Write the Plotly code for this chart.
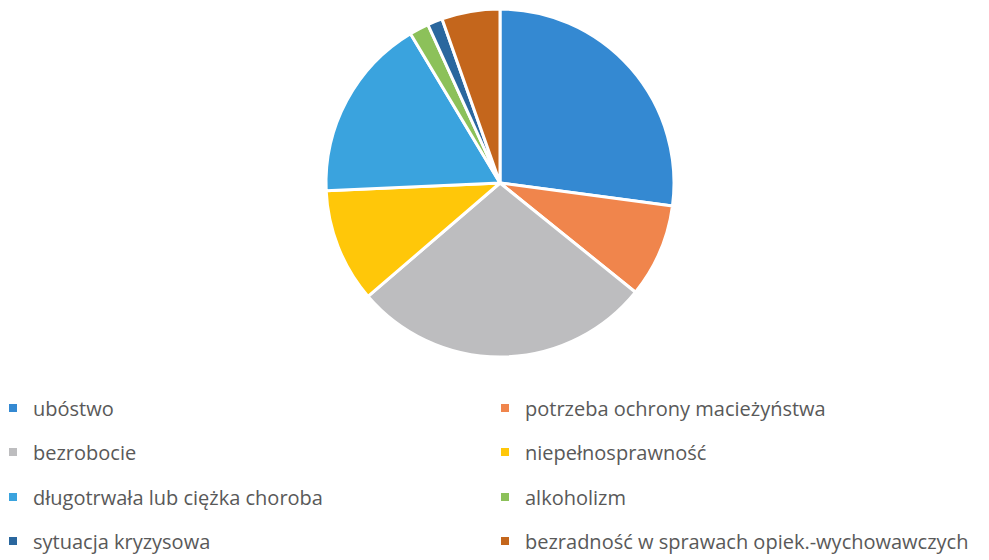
import plotly.graph_objects as go

labels = [
    "ubóstwo",
    "potrzeba ochrony macieżyństwa",
    "bezrobocie",
    "niepełnosprawność",
    "długotrwała lub ciężka choroba",
    "alkoholizm",
    "sytuacja kryzysowa",
    "bezradność w sprawach opiek.-wychowawczych",
]
values = [27.1, 8.7, 27.9, 10.6, 17.1, 1.8, 1.4, 5.4]
colors = ["#3489D2", "#F0854C", "#BDBDBF", "#FFC709", "#3AA3DE", "#8CC15A", "#2A679E", "#C4661C"]

W, H = 989, 560
fig = go.Figure()
fig.add_trace(go.Pie(
    labels=labels,
    values=values,
    sort=False,
    direction="clockwise",
    rotation=0,
    textinfo="none",
    hoverinfo="label+percent",
    showlegend=False,
    marker=dict(colors=colors, line=dict(color="white", width=3)),
    domain=dict(x=[318 / W, 666 / W], y=[1 - 350 / H, 1 - 0 / H]),
))

# legend: two columns, four rows (row-major, same order as slices)
row_y = [400, 444, 489, 533]
col_x = [0, 492]
legend_font = dict(family="Open Sans, sans-serif", size=20, color="#595959")
legend_layout = {}
for i, (lab, col) in enumerate(zip(labels, colors)):
    key = "legend" if i == 0 else f"legend{i + 1}"
    fig.add_trace(go.Scatter(
        x=[None], y=[None], mode="markers", name=lab,
        marker=dict(symbol="square", size=8, color=col),
        legend=key, showlegend=True, hoverinfo="skip",
    ))
    legend_layout[key] = dict(
        x=col_x[i % 2] / W, y=1 - row_y[i // 2] / H,
        xanchor="left", yanchor="middle",
        font=legend_font,
        itemwidth=30,
        indentation=-15,
        bgcolor="rgba(0,0,0,0)",
        itemclick=False, itemdoubleclick=False,
    )

fig.update_layout(
    width=W, height=H,
    margin=dict(l=0, r=0, t=0, b=0),
    paper_bgcolor="white",
    plot_bgcolor="white",
    xaxis=dict(visible=False),
    yaxis=dict(visible=False),
    **legend_layout,
)

fig.write_html("out.html")
